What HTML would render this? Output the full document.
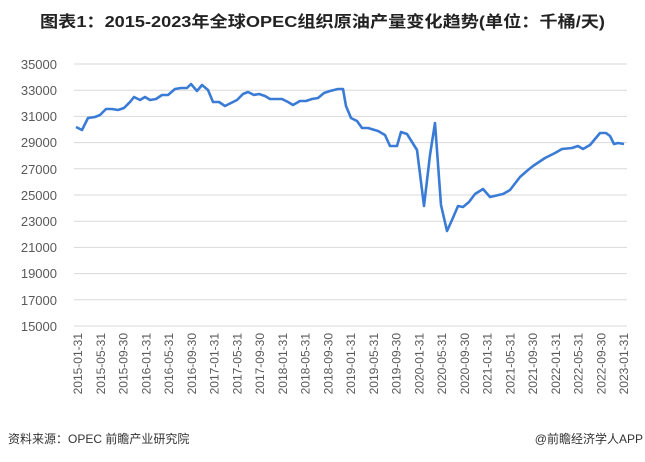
<!DOCTYPE html>
<html><head><meta charset="utf-8"><style>
body{margin:0;background:#fff;width:645px;height:457px;overflow:hidden}
svg text{font-family:"Liberation Sans","Noto Sans CJK SC",sans-serif}
</style></head><body>
<svg width="645" height="457" viewBox="0 0 645 457">
<text x="40" y="27" font-size="16" font-weight="bold" fill="#222" textLength="565" lengthAdjust="spacingAndGlyphs">图表1：2015-2023年全球OPEC组织原油产量变化趋势(单位：千桶/天)</text>
<g stroke="#d9d9d9" stroke-width="1">
<line x1="74" x2="627" y1="64" y2="64"/><line x1="74" x2="627" y1="90.2" y2="90.2"/><line x1="74" x2="627" y1="116.4" y2="116.4"/><line x1="74" x2="627" y1="142.6" y2="142.6"/><line x1="74" x2="627" y1="168.8" y2="168.8"/><line x1="74" x2="627" y1="195" y2="195"/><line x1="74" x2="627" y1="221.2" y2="221.2"/><line x1="74" x2="627" y1="247.4" y2="247.4"/><line x1="74" x2="627" y1="273.6" y2="273.6"/><line x1="74" x2="627" y1="299.8" y2="299.8"/><line x1="74" x2="627" y1="326" y2="326"/>
</g>
<g font-size="13" fill="#595959" text-anchor="end">
<text x="57" y="69">35000</text><text x="57" y="95">33000</text><text x="57" y="121">31000</text><text x="57" y="147">29000</text><text x="57" y="174">27000</text><text x="57" y="200">25000</text><text x="57" y="226">23000</text><text x="57" y="252">21000</text><text x="57" y="278">19000</text><text x="57" y="305">17000</text><text x="57" y="331">15000</text>
</g>
<polyline fill="none" stroke="#3a7bd5" stroke-width="2.6" stroke-linejoin="round" points="76,127 82,130 88,118 95,117 100,115 106,109 112,109 118,110 124,108 130,102 134,97 140,100 145,97 150,100 156,99 162,95 168,95 175,89 181,88 187,88 191,84 197,91 202,85 208,90 213,102 219,102 225,106 231,103 237,100 243,94 248,92 254,95 259,94 265,96 270,99 276,99 282,99 288,102 293,105 300,101 306,101 312,99 318,98 324,93 330,91 338,89 343,89 346,106 351,118 357,121 362,128 368,128 378,131 385,135 390,146 397,146 401,132 407,134 412,142 417,150 424,206 430,155 435,123 441,205 447,231 452,220 458,206 463,207 469,202 475,194 483,189 490,197 503,194 510,190 520,177 528,170 533,166 545,158 555,153 562,149 572,148 578,146 583,149 590,145 595,139 600,133 606,133 610,136 614,144 618,143 624,144"/>
<g font-size="12" fill="#595959" text-anchor="end">
<text transform="translate(82,333) rotate(-90)">2015-01-31</text>
<text transform="translate(104.75,333) rotate(-90)">2015-05-31</text>
<text transform="translate(127.5,333) rotate(-90)">2015-09-30</text>
<text transform="translate(150.25,333) rotate(-90)">2016-01-31</text>
<text transform="translate(173,333) rotate(-90)">2016-05-31</text>
<text transform="translate(195.75,333) rotate(-90)">2016-09-30</text>
<text transform="translate(218.5,333) rotate(-90)">2017-01-31</text>
<text transform="translate(241.25,333) rotate(-90)">2017-05-31</text>
<text transform="translate(264,333) rotate(-90)">2017-09-30</text>
<text transform="translate(286.75,333) rotate(-90)">2018-01-31</text>
<text transform="translate(309.5,333) rotate(-90)">2018-05-31</text>
<text transform="translate(332.25,333) rotate(-90)">2018-09-30</text>
<text transform="translate(355,333) rotate(-90)">2019-01-31</text>
<text transform="translate(377.75,333) rotate(-90)">2019-05-31</text>
<text transform="translate(400.5,333) rotate(-90)">2019-09-30</text>
<text transform="translate(423.25,333) rotate(-90)">2020-01-31</text>
<text transform="translate(446,333) rotate(-90)">2020-05-31</text>
<text transform="translate(468.75,333) rotate(-90)">2020-09-30</text>
<text transform="translate(491.5,333) rotate(-90)">2021-01-31</text>
<text transform="translate(514.25,333) rotate(-90)">2021-05-31</text>
<text transform="translate(537,333) rotate(-90)">2021-09-30</text>
<text transform="translate(559.75,333) rotate(-90)">2022-01-31</text>
<text transform="translate(582.5,333) rotate(-90)">2022-05-31</text>
<text transform="translate(605.25,333) rotate(-90)">2022-09-30</text>
<text transform="translate(628,333) rotate(-90)">2023-01-31</text>
</g>
<text x="8" y="443" font-size="12" fill="#333">资料来源：OPEC 前瞻产业研究院</text>
<text x="643" y="443" font-size="12" fill="#333" text-anchor="end">@前瞻经济学人APP</text>
</svg>
</body></html>
